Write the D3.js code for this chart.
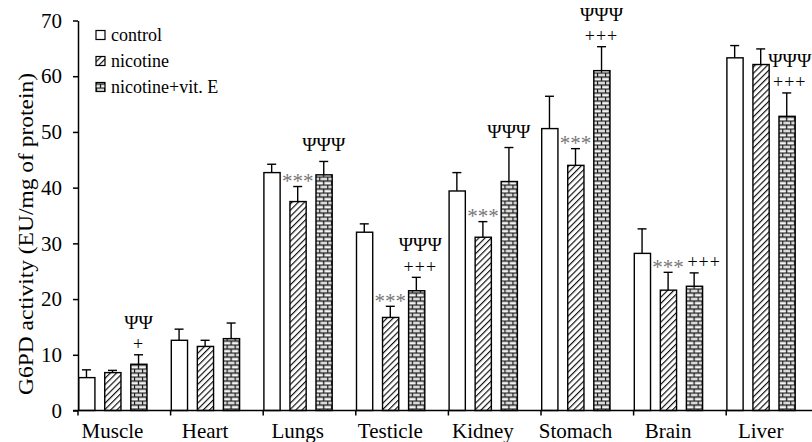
<!DOCTYPE html>
<html>
<head>
<meta charset="utf-8">
<script src="https://d3js.org/d3.v7.min.js"></script>
<style>
  body { margin: 0; background: #fff; }
  svg { display: block; font-family: "Liberation Serif", "Times New Roman", serif; }
</style>
</head>
<body>
<div id="chart"></div>
<script>
const categories = ["Muscle", "Heart", "Lungs", "Testicle", "Kidney", "Stomach", "Brain", "Liver"];
const series = ["control", "nicotine", "nicotine+vit. E"];

const control     = [5.9, 12.6, 42.7, 32.0, 39.4, 50.6, 28.2, 63.3];
const controlErr  = [1.4, 2.0, 1.5, 1.5, 3.3, 5.8, 4.4, 2.2];
const nicotine    = [6.8, 11.5, 37.5, 16.7, 31.1, 44.0, 21.6, 62.1];
const nicotineErr = [0.4, 1.1, 2.7, 2.0, 2.8, 3.0, 3.2, 2.8];
const vitE        = [8.3, 12.9, 42.3, 21.5, 41.1, 61.0, 22.3, 52.8];
const vitEErr     = [1.7, 2.8, 2.4, 2.4, 6.1, 4.3, 2.4, 4.2];

// significance marks
const stars     = ["", "", "***", "***", "***", "***", "***", ""];
const plusMarks = ["+", "", "", "+++", "", "+++", "+++", "+++"];
const psiMarks  = ["ΨΨ", "", "ΨΨΨ", "ΨΨΨ", "ΨΨΨ", "ΨΨΨ", "", "ΨΨΨ"];

const yTicks = [0, 10, 20, 30, 40, 50, 60, 70];

const width = 812, height = 442;
const left = 78, groupW = 92.6;

const svg = d3.select("#chart").append("svg")
    .attr("width", width)
    .attr("height", height);

const defs = svg.append("defs");

// diagonal hatch
const hatch = defs.append("pattern")
    .attr("id", "hatch")
    .attr("patternUnits", "userSpaceOnUse")
    .attr("width", 4.4).attr("height", 4.4)
    .attr("patternTransform", "rotate(45)");
hatch.append("rect").attr("width", 4.4).attr("height", 4.4).attr("fill", "#fff");
hatch.append("line")
    .attr("x1", 0.6).attr("y1", 0).attr("x2", 0.6).attr("y2", 4.4)
    .attr("stroke", "#000").attr("stroke-width", 1.1);

// brick
const brick = defs.append("pattern")
    .attr("id", "brick")
    .attr("patternUnits", "userSpaceOnUse")
    .attr("width", 8).attr("height", 8)
    .attr("x", 0).attr("y", 0.5);
brick.append("rect").attr("width", 8).attr("height", 8).attr("fill", "#f4f4f4");
brick.append("path")
    .attr("d", "M0,0.5H8M0,4.5H8M0.5,0V4.5M4.5,4.5V8")
    .attr("stroke", "#1a1a1a").attr("stroke-width", 1.3).attr("fill", "none");

const fills = { "control": "#fff", "nicotine": "url(#hatch)", "nicotine+vit. E": "url(#brick)" };

const x0 = d3.scaleBand()
    .domain(categories)
    .range([left, left + groupW * categories.length])
    .paddingInner(0).paddingOuter(0);

const x1 = d3.scaleBand()
    .domain(series)
    .range([0, 69])
    .paddingInner(0.35).paddingOuter(0);

const y = d3.scaleLinear()
    .domain([0, 70])
    .range([410.5, 20.5]);

const rows = categories.map((c, i) => ({
    cat: c,
    vals: [
        { s: series[0], v: control[i], e: controlErr[i] },
        { s: series[1], v: nicotine[i], e: nicotineErr[i] },
        { s: series[2], v: vitE[i], e: vitEErr[i] }
    ]
}));

// bars
const groups = svg.selectAll("g.grp")
    .data(rows)
    .join("g")
    .attr("class", "grp")
    .attr("transform", d => `translate(${x0(d.cat)},0)`);

groups.selectAll("line.err")
    .data(d => d.vals)
    .join("line")
    .attr("class", "err")
    .attr("x1", d => x1(d.s) + x1.bandwidth() / 2)
    .attr("x2", d => x1(d.s) + x1.bandwidth() / 2)
    .attr("y1", d => y(d.v))
    .attr("y2", d => y(d.v + d.e))
    .attr("stroke", "#000").attr("stroke-width", 1.4);

groups.selectAll("line.cap")
    .data(d => d.vals)
    .join("line")
    .attr("class", "cap")
    .attr("x1", d => x1(d.s) + x1.bandwidth() / 2 - 4.5)
    .attr("x2", d => x1(d.s) + x1.bandwidth() / 2 + 4.5)
    .attr("y1", d => y(d.v + d.e))
    .attr("y2", d => y(d.v + d.e))
    .attr("stroke", "#000").attr("stroke-width", 1.4);

groups.selectAll("rect")
    .data(d => d.vals)
    .join("rect")
    .attr("x", d => x1(d.s) + 0.7)
    .attr("y", d => y(d.v))
    .attr("width", x1.bandwidth() - 0.7)
    .attr("height", d => y(0) - y(d.v))
    .attr("fill", d => fills[d.s])
    .attr("stroke", "#000")
    .attr("stroke-width", 1.4);

// annotations
const nudge = { Testicle: 4, Brain: 10, Liver: 3 };
const cx = (s) => x1(s) + x1.bandwidth() / 2;

rows.forEach((r, i) => {
    const g = svg.append("g").attr("transform", `translate(${x0(r.cat)},0)`);
    if (stars[i]) {
        g.append("text")
            .attr("x", cx(series[1]))
            .attr("y", y(nicotine[i] + nicotineErr[i]) - 10)
            .attr("dy", "0.55em")
            .attr("text-anchor", "middle")
            .attr("font-size", 21)
            .attr("fill", "#777")
            .text(stars[i]);
    }
    const top = y(vitE[i] + vitEErr[i]);
    const dx = nudge[r.cat] || 0;
    let plusY = top - 11;
    if (plusMarks[i]) {
        g.append("text")
            .attr("x", cx(series[2]) + dx)
            .attr("y", plusY)
            .attr("dy", "0.35em")
            .attr("text-anchor", "middle")
            .attr("font-size", 18)
            .attr("letter-spacing", 1)
            .attr("fill", "#000")
            .text(plusMarks[i]);
    }
    if (psiMarks[i]) {
        const py = plusMarks[i] ? plusY - 22 : top - 17;
        g.append("text")
            .attr("x", cx(series[2]) + dx)
            .attr("y", py)
            .attr("dy", "0.36em")
            .attr("text-anchor", "middle")
            .attr("font-size", 19.5)
            .attr("fill", "#000")
            .text(psiMarks[i]);
    }
});

// y axis
const yAxis = svg.append("g")
    .attr("transform", `translate(${left},0)`)
    .call(d3.axisLeft(y).tickValues(yTicks).tickSize(5).tickSizeOuter(0).tickPadding(11));
yAxis.select(".domain").attr("stroke", "#000").attr("stroke-width", 1.5);
yAxis.selectAll(".tick line").attr("stroke", "#000").attr("stroke-width", 1.5);
yAxis.selectAll(".tick text")
    .attr("font-family", "Liberation Serif, serif")
    .attr("font-size", 21)
    .attr("fill", "#000");

// x axis
svg.append("line")
    .attr("x1", left - 5).attr("x2", width)
    .attr("y1", y(0)).attr("y2", y(0))
    .attr("stroke", "#000").attr("stroke-width", 1.5);

svg.selectAll("line.xtick")
    .data(categories)
    .join("line")
    .attr("class", "xtick")
    .attr("x1", d => x0(d)).attr("x2", d => x0(d))
    .attr("y1", y(0)).attr("y2", y(0) + 5)
    .attr("stroke", "#000").attr("stroke-width", 1.5);

svg.selectAll("text.xlab")
    .data(categories)
    .join("text")
    .attr("class", "xlab")
    .attr("x", d => x0(d) + 34.5)
    .attr("y", 438)
    .attr("text-anchor", "middle")
    .attr("font-size", 21)
    .attr("fill", "#000")
    .text(d => d);

// y label
svg.append("text")
    .attr("transform", "translate(33,234) rotate(-90)")
    .attr("text-anchor", "middle")
    .attr("font-size", 21)
    .attr("textLength", 322)
    .attr("lengthAdjust", "spacingAndGlyphs")
    .attr("fill", "#000")
    .text("G6PD activity (EU/mg of protein)");

// legend
const legend = svg.append("g").selectAll("g")
    .data(series)
    .join("g")
    .attr("transform", (d, i) => `translate(96,${35 + i * 26})`);

legend.append("rect")
    .attr("x", 0).attr("y", -4.5)
    .attr("width", 9).attr("height", 9)
    .attr("fill", d => fills[d])
    .attr("stroke", "#000").attr("stroke-width", 1.2);

legend.append("text")
    .attr("x", 15)
    .attr("dy", "0.35em")
    .attr("font-size", 18)
    .attr("fill", "#000")
    .text(d => d);
</script>
</body>
</html>
